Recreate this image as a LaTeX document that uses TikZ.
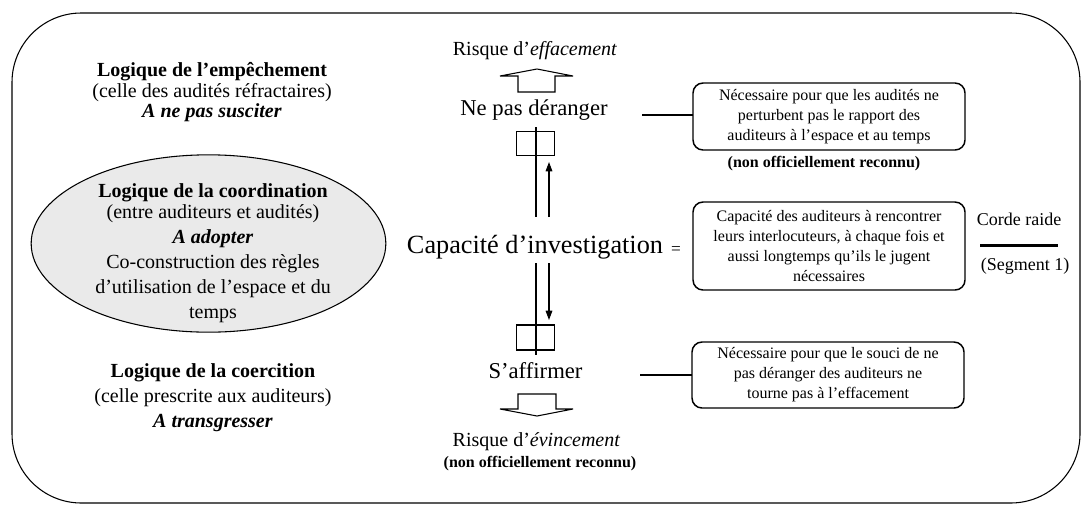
\documentclass[tikz,border=0pt]{standalone}
\usepackage{fontspec}
\setmainfont{Liberation Serif}
\usetikzlibrary{arrows.meta,shapes.geometric}
\definecolor{ellgray}{RGB}{234,234,234}
\begin{document}
\begin{tikzpicture}[x=0.75pt,y=-0.75pt,
  every node/.style={inner sep=0pt, outer sep=0pt},
  boxtxt/.style={draw, rounded corners=7.5pt, line width=1.1pt, minimum width=204pt, align=center, font=\fontsize{12}{15}\selectfont},
  blockarrow/.style={draw, line width=0.8pt, fill=white},
  thinline/.style={line width=0.8pt},
  tipline/.style={line width=0.8pt, -{Triangle[length=7pt,width=5pt]}},
]
\useasboundingbox (0,0) rectangle (1081,504);
\draw[line width=0.8pt, rounded corners=52pt] (12,13) rectangle (1080,503);

% ellipse
\node[ellipse, draw, line width=0.8pt, fill=ellgray, minimum width=266pt, minimum height=133pt] (ell) at (208.5,243.5) {};

% left texts
\node[align=center, font=\fontsize{15}{15.4}\selectfont] (emp) at (212,92.4)
 {\textbf{Logique de l’empêchement}\\(celle des audités réfractaires)\\\textbf{\textit{A ne pas susciter}}};
\node[align=center, font=\fontsize{15}{18.75}\selectfont] (coord) at (213,252.7)
 {\textbf{Logique de la coordination}\\[-3pt](entre auditeurs et audités)\\\textbf{\textit{A adopter}}\\Co-construction des règles\\d’utilisation de l’espace et du\\temps};
\node[align=center, font=\fontsize{15}{18.4}\selectfont] (coer) at (213,397.7)
 {\textbf{Logique de la coercition}\\(celle prescrite aux auditeurs)\\\textbf{\textit{A transgresser}}};

% centre column
\node[anchor=base, font=\fontsize{15}{18}\selectfont] (risk1) at (535,55.7) {Risque d’\textit{effacement}};
\node[anchor=base, font=\fontsize{17}{20}\selectfont] (nepas) at (534,115) {Ne pas déranger};
\node[anchor=base, font=\fontsize{19.7}{24}\selectfont] (cap) at (535,253) {Capacité d’investigation};
\node[anchor=base, font=\fontsize{13}{15}\selectfont] (eq) at (676,254) {=};
\node[anchor=base, font=\fontsize{17}{20}\selectfont] (aff) at (535.5,378) {S’affirmer};
\node[anchor=base, font=\fontsize{15}{18}\selectfont] (risk2) at (536.5,446.7) {Risque d’\textit{évincement}};
\node[anchor=base, font=\bfseries\fontsize{12}{14}\selectfont] (nonoff2) at (540,467) {(non officiellement reconnu)};

% squares
\node[draw, thinline, minimum width=28.5pt, minimum height=17.5pt] (sq1) at (535.5,143.5) {};
\node[draw, thinline, minimum width=28.5pt, minimum height=18.75pt] (sq2) at (535.5,337.5) {};

% vertical lines and arrows
\coordinate (vt1) at (536,127); \coordinate (vb1) at (536,217);
\coordinate (ua1) at (549,217); \coordinate (ua2) at (549,162);
\coordinate (vt2) at (536,263); \coordinate (vb2) at (536,355);
\coordinate (da1) at (549,263); \coordinate (da2) at (549,320);
\draw[thinline] (vt1) -- (vb1);
\draw[tipline] (ua1) -- (ua2);
\draw[thinline] (vt2) -- (vb2);
\draw[tipline] (da1) -- (da2);

% block arrows
\draw[blockarrow] (518,92) -- (518,76) -- (500,76) -- (537,69) -- (573,76) -- (555,76) -- (555,92) -- cycle;
\draw[blockarrow] (518,394) -- (518,409) -- (500,409) -- (537,416) -- (573,409) -- (556,409) -- (556,394) -- cycle;

% boxes
\node[boxtxt, minimum height=50.25pt] (box1) at (829,116.5)
 {Nécessaire pour que les audités ne\\perturbent pas le rapport des\\auditeurs à l’espace et au temps};
\node[boxtxt, minimum height=66pt] (box2) at (829,246)
 {Capacité des auditeurs à rencontrer\\leurs interlocuteurs, à chaque fois et\\aussi longtemps qu’ils le jugent\\nécessaires};
\node[boxtxt, minimum height=49.5pt] (box3) at (828,375)
 {Nécessaire pour que le souci de ne\\pas déranger des auditeurs ne\\tourne pas à l’effacement};
\node[anchor=base, font=\bfseries\fontsize{12}{14}\selectfont] (nonoff1) at (824,167) {(non officiellement reconnu)};

% connectors to boxes
\coordinate (c1) at (642,115);
\coordinate (c2) at (640,375);
\draw[thinline] (c1) -- (c1 -| box1.west);
\draw[thinline] (c2) -- (c2 -| box3.west);

% corde raide
\node[anchor=base, font=\fontsize{13.5}{16}\selectfont] (corde) at (1019,225.7) {Corde raide};
\coordinate (s1) at (980,245); \coordinate (s2) at (1058,245);
\draw[line width=2.25pt] (s1) -- (s2);
\node[anchor=base, font=\fontsize{13.5}{16}\selectfont] (seg) at (1025,270) {(Segment 1)};
\end{tikzpicture}
\end{document}
